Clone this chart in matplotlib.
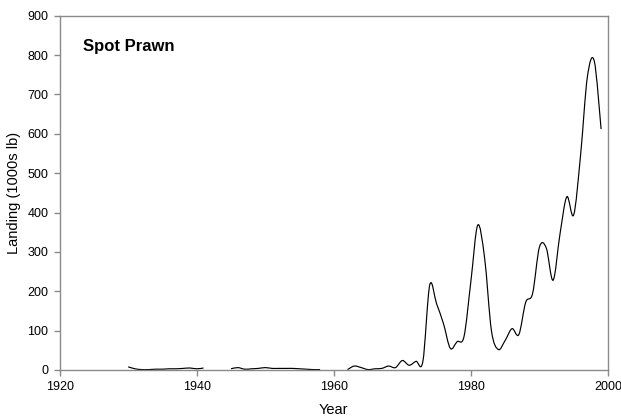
import matplotlib
matplotlib.use('Agg')
import matplotlib.pyplot as plt
from matplotlib.path import Path
from matplotlib.patches import PathPatch
import numpy as np

plt.rcParams['font.family'] = ['Liberation Sans', 'DejaVu Sans']

# Data (landings in 1000s lb), three continuous runs with gaps between
years_a = list(range(1930, 1942))
landing_a = [8, 3, 1, 1, 2, 2, 3, 3, 4, 5, 3, 5]

years_b = list(range(1945, 1959))
landing_b = [3, 6, 2, 3, 4, 6, 4, 4, 4, 4, 3, 2, 1, 1]

years_c = list(range(1962, 2000))
landing_c = [1, 10, 6, 1, 3, 4, 10, 6, 24, 12, 22, 22,
             216, 168, 118, 55, 72, 85, 225, 368, 285, 100, 52, 75,
             105, 90, 172, 194, 312, 310, 228, 345, 440, 394, 545, 745,
             785, 612]

x_ticks = [1920, 1940, 1960, 1980, 2000]
y_ticks = list(range(0, 1000, 100))


def smooth_path(xs, ys):
    pts = np.column_stack([xs, ys]).astype(float)
    n = len(pts)
    verts = [pts[0]]
    codes = [Path.MOVETO]
    for i in range(n - 1):
        p0 = pts[i - 1] if i > 0 else pts[i]
        p1 = pts[i]
        p2 = pts[i + 1]
        p3 = pts[i + 2] if i + 2 < n else pts[i + 1]
        c1 = p1 + (p2 - p0) / 6.0
        c2 = p2 - (p3 - p1) / 6.0
        verts += [c1, c2, p2]
        codes += [Path.CURVE4] * 3
    return Path(verts, codes)


fig = plt.figure(figsize=(6.21, 4.19), dpi=100)
ax = fig.add_axes([0.096, 0.117, 0.883, 0.8455])

for xs, ys in [(years_a, landing_a), (years_b, landing_b), (years_c, landing_c)]:
    ax.add_patch(PathPatch(smooth_path(xs, ys), fill=False,
                           edgecolor='black', lw=0.85))

ax.set_xlim(1920, 2000)
ax.set_ylim(0, 900)
ax.set_xticks(x_ticks)
ax.set_yticks(y_ticks)

gray = '#8a8a8a'
for s in ax.spines.values():
    s.set_color(gray)
    s.set_linewidth(1.0)
ax.tick_params(direction='out', length=4, width=1, color=gray,
               labelsize=9, labelcolor='black', pad=4)

ax.set_xlabel('Year', fontsize=10.5)
ax.xaxis.set_label_coords(0.5, -0.093)
ax.set_ylabel('Landing (1000s lb)', fontsize=10.5)
ax.yaxis.set_label_coords(-0.07, 0.5)

ax.text(0.043, 0.912, 'Spot Prawn', transform=ax.transAxes,
        fontsize=12, fontweight='bold', ha='left', va='center')

fig.savefig('out.png', dpi=100)
